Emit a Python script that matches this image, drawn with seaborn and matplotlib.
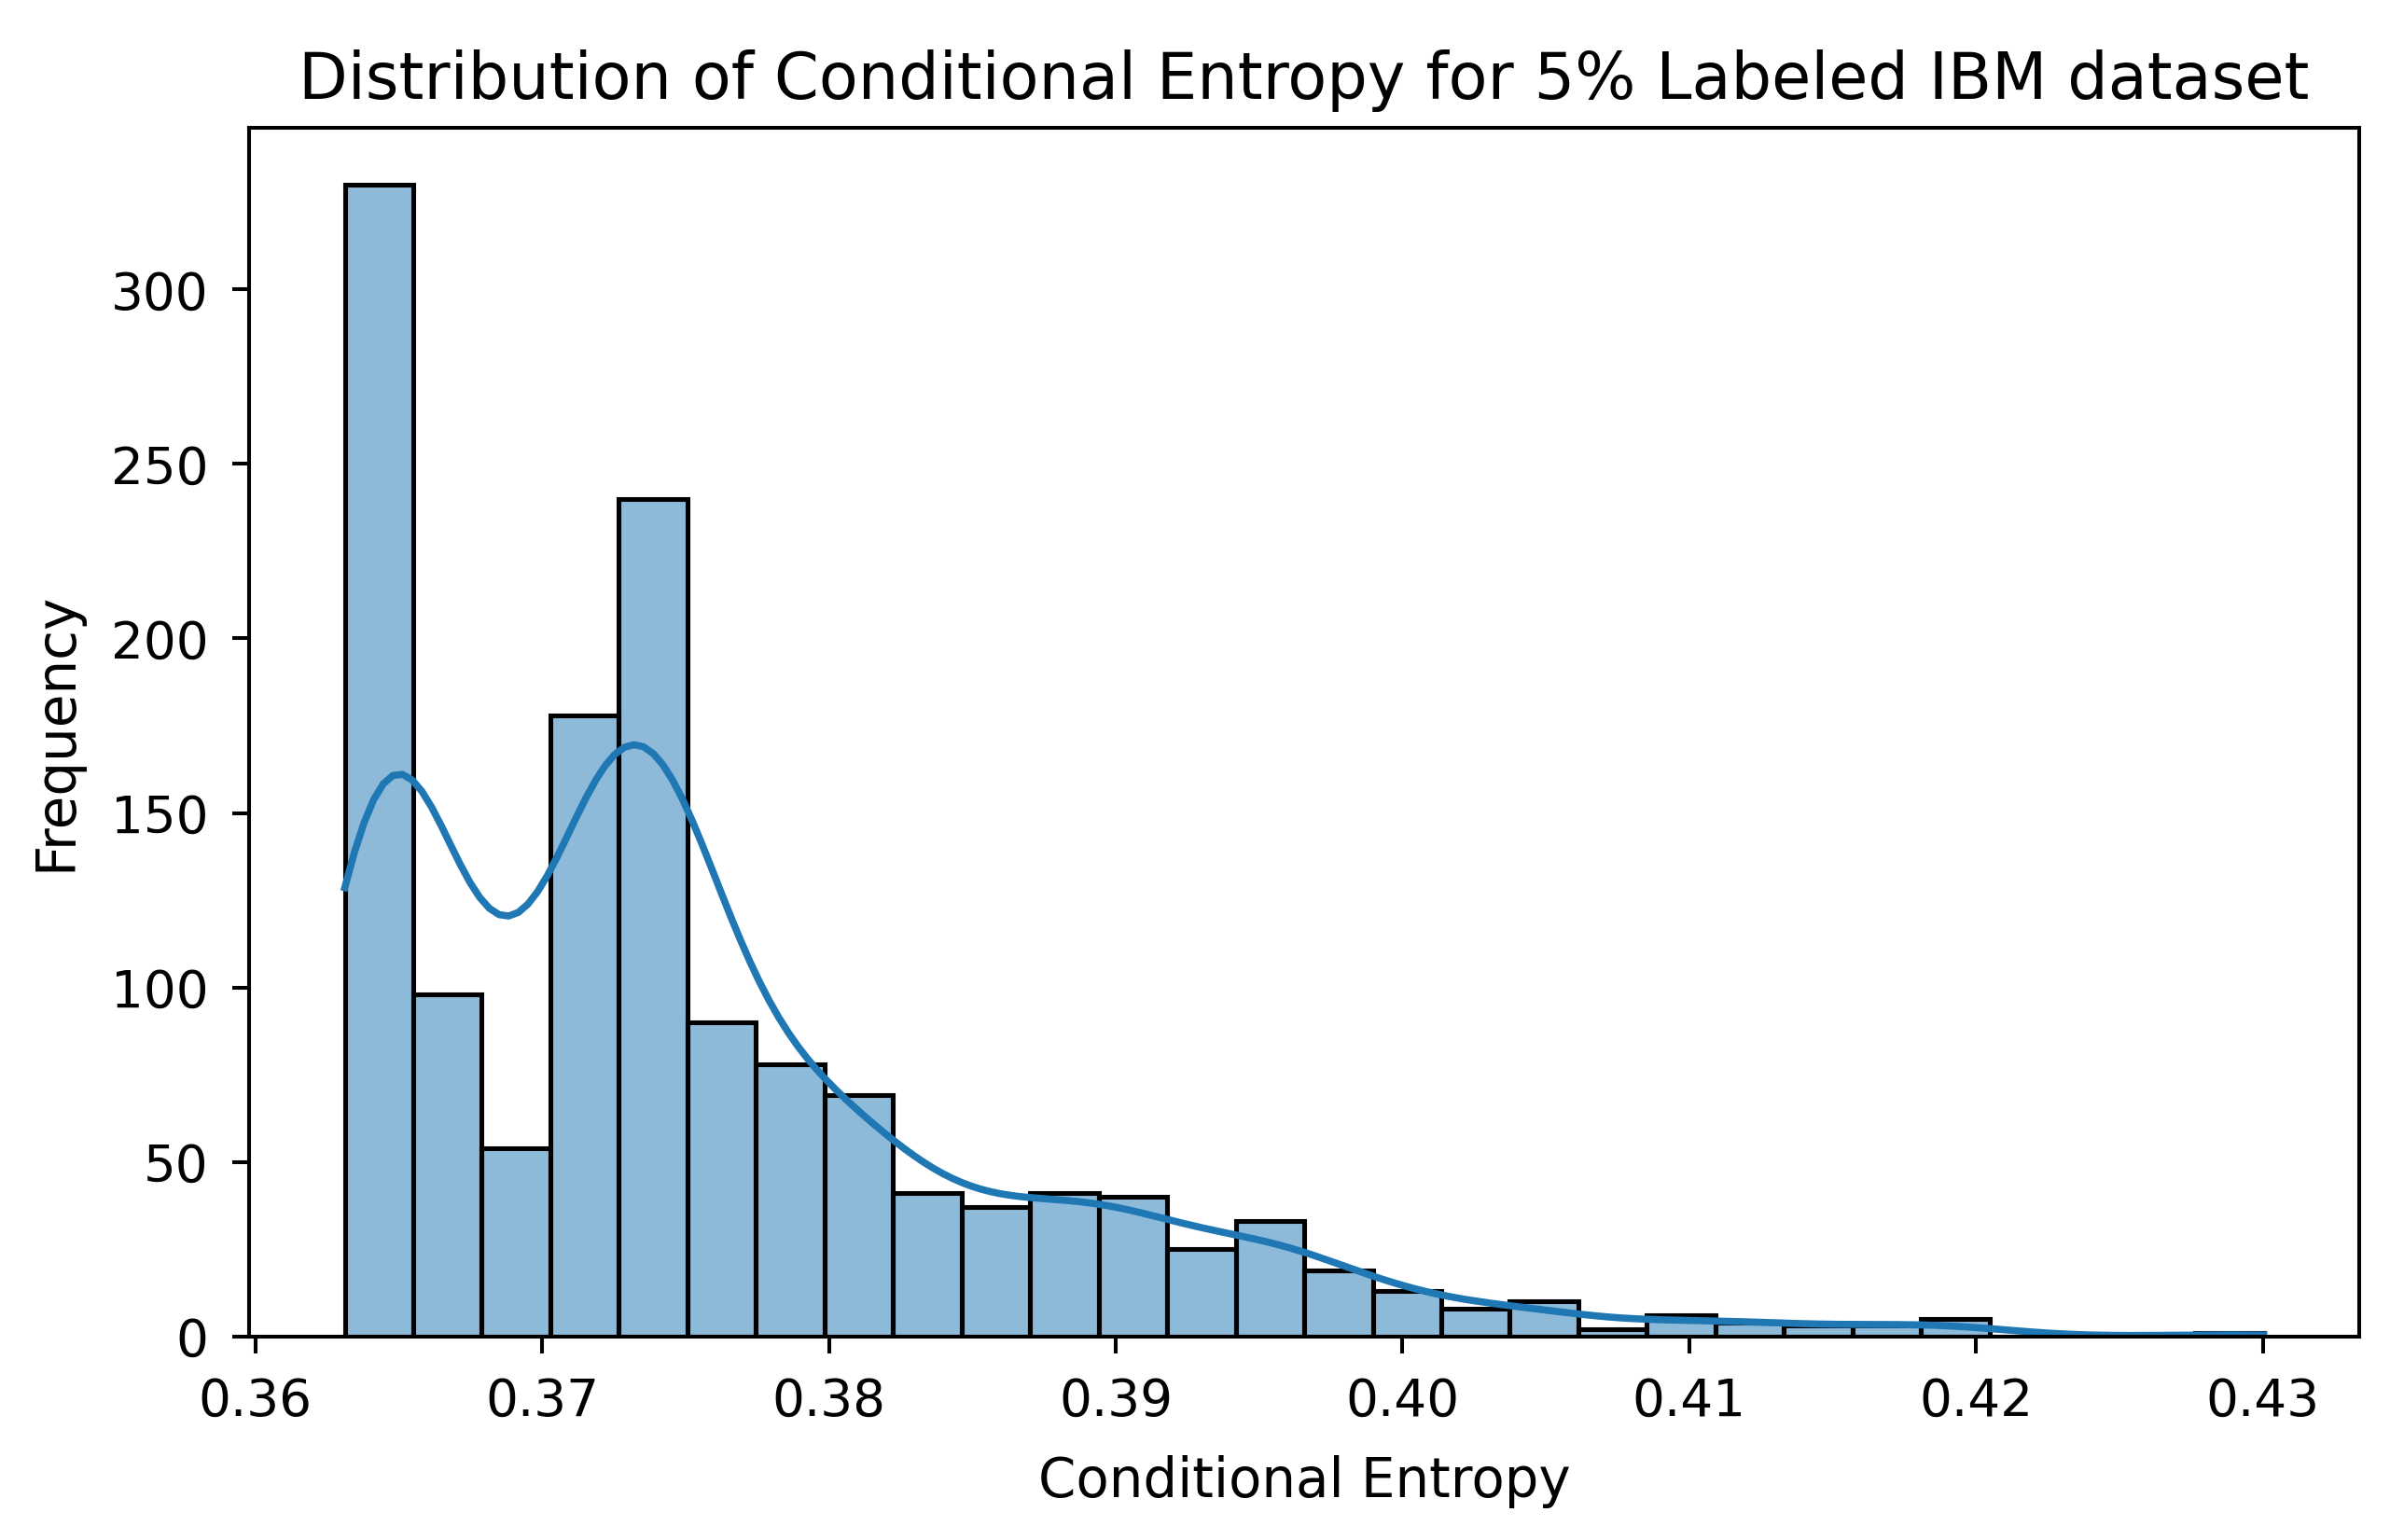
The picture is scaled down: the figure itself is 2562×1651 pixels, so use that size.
import numpy as np
import pandas as pd
import seaborn as sns
from matplotlib import pyplot as plt

# counts per bin (28 equal bins)
counts = [330, 98, 54, 178, 240, 90, 78, 69, 41, 37, 41, 40, 25, 33,
          19, 13, 8, 10, 2, 6, 4, 3, 3, 5, 0, 0, 0, 1]
entropy_min = 0.36312
entropy_max = 0.43003
n_bins = 28

# rebuild a sample from the binned counts (one value per bin centre)
edges = np.linspace(entropy_min, entropy_max, n_bins + 1)
centers = (edges[:-1] + edges[1:]) / 2
df = pd.DataFrame({'entropy': np.repeat(centers, counts)})

fig, ax = plt.subplots(figsize=(7, 4.511), dpi=366)
fig.subplots_adjust(left=0.1041, right=0.9873, top=0.9173, bottom=0.1323)

sns.histplot(data=df, x='entropy', bins=edges, kde=True, edgecolor='black',
             kde_kws={'cut': 1, 'clip': (entropy_min, entropy_max), 'bw_adjust': 0.96},
             ax=ax)

ax.set_title('Distribution of Conditional Entropy for 5% Labeled IBM dataset', fontsize=13.5)
ax.set_xlabel('Conditional Entropy', fontsize=11.4, labelpad=6)
ax.set_ylabel('Frequency', fontsize=11.4, labelpad=6)
ax.tick_params(labelsize=10.8, pad=5)

plt.savefig('out.png', dpi=366)
